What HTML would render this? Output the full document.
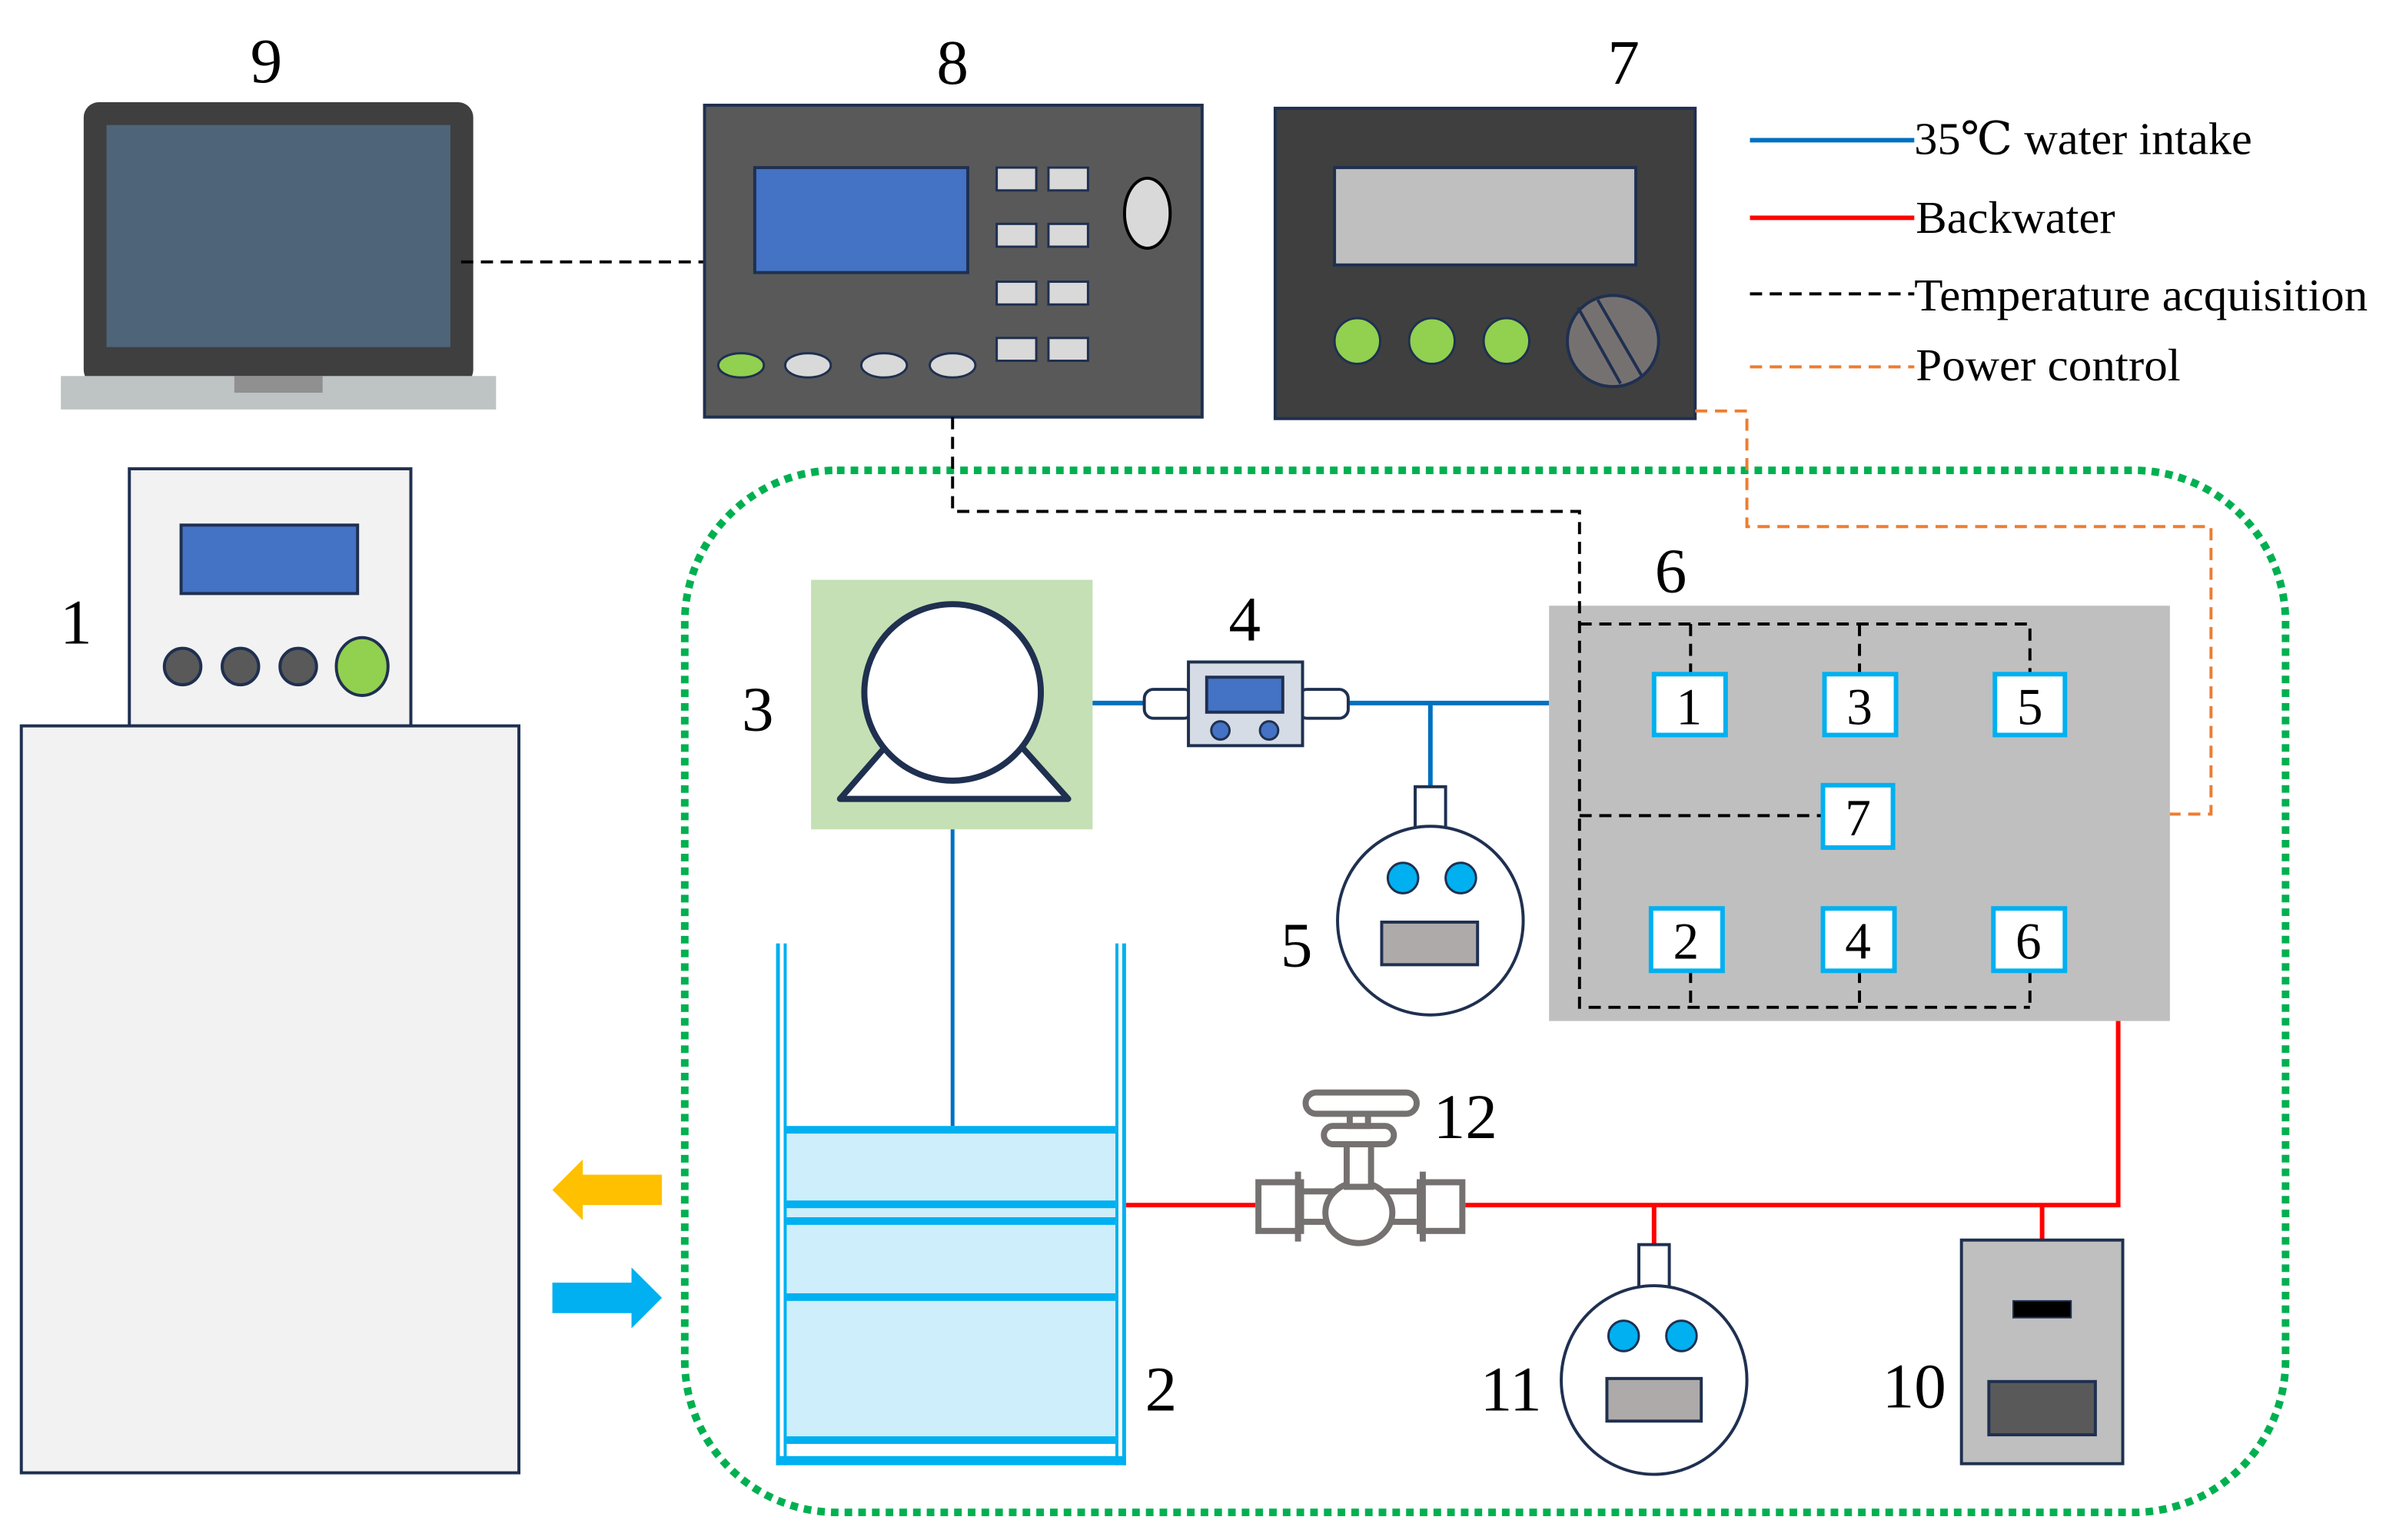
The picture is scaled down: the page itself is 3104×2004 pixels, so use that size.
<!DOCTYPE html>
<html><head><meta charset="utf-8"><style>html,body{margin:0;padding:0;background:#fff}svg{display:block}text{font-family:"Liberation Serif","DejaVu Serif",serif}</style></head><body>
<svg width="3104" height="2004" viewBox="0 0 1568 1012" xmlns="http://www.w3.org/2000/svg">
<rect width="1568" height="1012" fill="#fff"/>
<rect x="450" y="309" width="1052" height="685" rx="100" fill="none" stroke="#00b050" stroke-width="5" stroke-dasharray="5 4"/>
<g font-size="42" fill="#000" text-anchor="middle">
<text x="175" y="54">9</text><text x="626" y="55">8</text><text x="1067" y="55">7</text>
<text x="50" y="423">1</text><text x="498" y="480">3</text><text x="818" y="421">4</text>
<text x="1098" y="389">6</text><text x="852" y="635">5</text><text x="763" y="927">2</text>
<text x="963" y="748">12</text><text x="993" y="927">11</text><text x="1258" y="925">10</text>
</g>
<rect x="55" y="67" width="256" height="186" rx="10" fill="#3f3f3f"/>
<rect x="70" y="82" width="226" height="146" fill="#4e6478"/>
<rect x="40" y="247" width="286" height="22" fill="#bec3c3"/>
<rect x="154" y="247" width="58" height="11" fill="#909090"/>
<line x1="303" y1="172" x2="463" y2="172" stroke="#000" stroke-width="2" stroke-dasharray="8 5"/>
<rect x="463" y="69" width="327" height="205" fill="#595959" stroke="#1f3050" stroke-width="2"/>
<rect x="496" y="110" width="140" height="69" fill="#4472c4" stroke="#1f3050" stroke-width="2"/>
<g fill="#d9d9d9" stroke="#1f3050" stroke-width="1.5">
<rect x="655" y="110" width="26" height="15"/><rect x="689" y="110" width="26" height="15"/>
<rect x="655" y="147" width="26" height="15"/><rect x="689" y="147" width="26" height="15"/>
<rect x="655" y="185" width="26" height="15"/><rect x="689" y="185" width="26" height="15"/>
<rect x="655" y="222" width="26" height="15"/><rect x="689" y="222" width="26" height="15"/>
<ellipse cx="487" cy="240" rx="15" ry="8" fill="#92d050"/>
<ellipse cx="531" cy="240" rx="15" ry="8"/><ellipse cx="581" cy="240" rx="15" ry="8"/><ellipse cx="626" cy="240" rx="15" ry="8"/>
</g>
<ellipse cx="754" cy="140" rx="15" ry="23" fill="#d9d9d9" stroke="#000" stroke-width="2"/>
<rect x="838" y="71" width="276" height="204" fill="#3f3f3f" stroke="#1f3050" stroke-width="2"/>
<rect x="877" y="110" width="198" height="64" fill="#bfbfbf" stroke="#1f3050" stroke-width="2"/>
<g fill="#92d050" stroke="#1f3050" stroke-width="1.5">
<circle cx="892" cy="224" r="15"/><circle cx="941" cy="224" r="15"/><circle cx="990" cy="224" r="15"/>
</g>
<circle cx="1060" cy="224" r="30" fill="#767171" stroke="#1f3050" stroke-width="2"/>
<line x1="1037" y1="202" x2="1065" y2="252" stroke="#1f3050" stroke-width="2"/>
<line x1="1050" y1="197" x2="1079" y2="247" stroke="#1f3050" stroke-width="2"/>
<line x1="1150" y1="92" x2="1258" y2="92" stroke="#0070c0" stroke-width="3"/>
<line x1="1150" y1="143" x2="1258" y2="143" stroke="#ff0000" stroke-width="3"/>
<line x1="1150" y1="193" x2="1258" y2="193" stroke="#000" stroke-width="2" stroke-dasharray="8 5"/>
<line x1="1150" y1="241" x2="1258" y2="241" stroke="#ed7d31" stroke-width="2" stroke-dasharray="8 5"/>
<g font-size="30" fill="#000">
<text x="1258" y="101" textLength="222" lengthAdjust="spacingAndGlyphs">35℃ water intake</text>
<text x="1259" y="153" textLength="131" lengthAdjust="spacingAndGlyphs">Backwater</text>
<text x="1258" y="204" textLength="298" lengthAdjust="spacingAndGlyphs">Temperature acquisition</text>
<text x="1259" y="250" textLength="174" lengthAdjust="spacingAndGlyphs">Power control</text>
</g>
<rect x="85" y="308" width="185" height="169" fill="#f2f2f2" stroke="#1f3050" stroke-width="2"/>
<rect x="119" y="345" width="116" height="45" fill="#4472c4" stroke="#1f3050" stroke-width="2"/>
<g stroke="#1f3050" stroke-width="2"><circle cx="120" cy="438" r="12" fill="#595959"/><circle cx="158" cy="438" r="12" fill="#595959"/><circle cx="196" cy="438" r="12" fill="#595959"/><ellipse cx="238" cy="438" rx="17" ry="19" fill="#92d050"/></g>
<rect x="14" y="477" width="327" height="491" fill="#f2f2f2" stroke="#1f3050" stroke-width="2"/>
<polygon points="363,782 383,762 383,772 435,772 435,792 383,792 383,802" fill="#ffc000"/>
<polygon points="435,853 415,833 415,843 363,843 363,863 415,863 415,873" fill="#00b0f0"/>
<rect x="533" y="381" width="185" height="164" fill="#c5e0b4"/>
<polygon points="552,525 702,525 626,440" fill="#fff" stroke="#1f3050" stroke-width="4" stroke-linejoin="round"/>
<circle cx="626" cy="455" r="58" fill="#fff" stroke="#1f3050" stroke-width="4"/>
<line x1="626" y1="545" x2="626" y2="740" stroke="#0070c0" stroke-width="2.5"/>
<rect x="517" y="742" width="216" height="206" fill="#cdeefa"/>
<g fill="#00b0f0">
<rect x="510" y="620" width="2.5" height="343"/><rect x="515" y="620" width="2" height="343"/>
<rect x="733" y="620" width="2" height="343"/><rect x="737.5" y="620" width="2.5" height="343"/>
<rect x="517" y="740" width="216" height="5"/><rect x="517" y="789" width="216" height="5"/><rect x="517" y="800" width="216" height="5"/>
<rect x="517" y="850" width="216" height="5"/><rect x="517" y="944" width="216" height="5"/><rect x="510" y="957" width="230" height="6"/>
</g>
<g stroke="#0070c0" stroke-width="3" fill="none">
<line x1="718" y1="462" x2="752" y2="462"/><line x1="886" y1="462" x2="1018" y2="462"/><line x1="940" y1="462" x2="940" y2="517"/>
</g>
<rect x="752" y="453" width="32" height="19" rx="6" fill="#fff" stroke="#1f3050" stroke-width="2"/>
<rect x="853" y="453" width="33" height="19" rx="6" fill="#fff" stroke="#1f3050" stroke-width="2"/>
<rect x="781" y="435" width="75" height="55" fill="#d6dce5" stroke="#1f3050" stroke-width="2"/>
<rect x="793" y="445" width="50" height="23" fill="#4472c4" stroke="#1f3050" stroke-width="2"/>
<circle cx="802" cy="480" r="6" fill="#4472c4" stroke="#1f3050" stroke-width="1.5"/><circle cx="834" cy="480" r="6" fill="#4472c4" stroke="#1f3050" stroke-width="1.5"/>
<rect x="930" y="517" width="20" height="30" fill="#fff" stroke="#1f3050" stroke-width="2"/>
<ellipse cx="940" cy="605" rx="61" ry="62" fill="#fff" stroke="#1f3050" stroke-width="2"/>
<circle cx="922" cy="577" r="10" fill="#00b0f0" stroke="#1f3050" stroke-width="1.5"/><circle cx="960" cy="577" r="10" fill="#00b0f0" stroke="#1f3050" stroke-width="1.5"/>
<rect x="908" y="606" width="63" height="28" fill="#aeaaaa" stroke="#1f3050" stroke-width="2"/>
<rect x="1018" y="398" width="408" height="273" fill="#bfbfbf"/>
<g stroke="#000" stroke-width="2" stroke-dasharray="8 5" fill="none">
<polyline points="626,274 626,336 1038,336 1038,662 1334,662"/>
<polyline points="1038,410 1334,410 1334,443"/>
<line x1="1111" y1="410" x2="1111" y2="443"/><line x1="1222" y1="410" x2="1222" y2="443"/>
<line x1="1038" y1="536" x2="1198" y2="536"/>
<line x1="1111" y1="638" x2="1111" y2="662"/><line x1="1222" y1="638" x2="1222" y2="662"/><line x1="1334" y1="638" x2="1334" y2="662"/>
</g>
<g fill="#fff" stroke="#00b0f0" stroke-width="3">
<rect x="1087" y="443" width="47" height="40"/><rect x="1199" y="443" width="47" height="40"/><rect x="1311" y="443" width="46" height="40"/>
<rect x="1198" y="516" width="46" height="41"/>
<rect x="1085" y="597" width="47" height="41"/><rect x="1198" y="597" width="47" height="41"/><rect x="1310" y="597" width="47" height="41"/>
</g>
<g font-size="34" text-anchor="middle" fill="#000">
<text x="1110" y="476">1</text><text x="1222" y="476">3</text><text x="1334" y="476">5</text>
<text x="1221" y="549">7</text>
<text x="1108" y="630">2</text><text x="1221" y="630">4</text><text x="1333" y="630">6</text>
</g>
<polyline points="1114,270 1148,270 1148,346 1453,346 1453,535 1426,535" fill="none" stroke="#ed7d31" stroke-width="2" stroke-dasharray="8 5"/>
<g stroke="#ff0000" stroke-width="3" fill="none">
<line x1="740" y1="792" x2="825" y2="792"/><polyline points="963,792 1392,792 1392,671"/>
<line x1="1087" y1="792" x2="1087" y2="818"/><line x1="1342" y1="792" x2="1342" y2="815"/>
</g>
<g fill="#fff" stroke="#767171" stroke-width="4">
<rect x="827" y="777" width="28" height="32"/><rect x="933" y="777" width="28" height="32"/>
<rect x="855" y="783" width="78" height="20"/>
<ellipse cx="893" cy="797" rx="22" ry="20"/>
<rect x="885" y="750" width="16" height="30"/>
<rect x="870" y="740" width="46" height="12" rx="6"/>
<rect x="887" y="728" width="12" height="12"/>
<rect x="858" y="718" width="73" height="14" rx="7"/>
<line x1="853" y1="770" x2="853" y2="816"/><line x1="935" y1="770" x2="935" y2="816"/>
</g>
<rect x="1077" y="818" width="20" height="30" fill="#fff" stroke="#1f3050" stroke-width="2"/>
<ellipse cx="1087" cy="907" rx="61" ry="62" fill="#fff" stroke="#1f3050" stroke-width="2"/>
<circle cx="1067" cy="878" r="10" fill="#00b0f0" stroke="#1f3050" stroke-width="1.5"/><circle cx="1105" cy="878" r="10" fill="#00b0f0" stroke="#1f3050" stroke-width="1.5"/>
<rect x="1056" y="906" width="62" height="28" fill="#aeaaaa" stroke="#1f3050" stroke-width="2"/>
<rect x="1289" y="815" width="106" height="147" fill="#bfbfbf" stroke="#1f3050" stroke-width="2"/>
<rect x="1323" y="855" width="38" height="11" fill="#000" stroke="#1f3050"/>
<rect x="1307" y="908" width="70" height="35" fill="#595959" stroke="#1f3050" stroke-width="2"/>
</svg>
</body></html>
